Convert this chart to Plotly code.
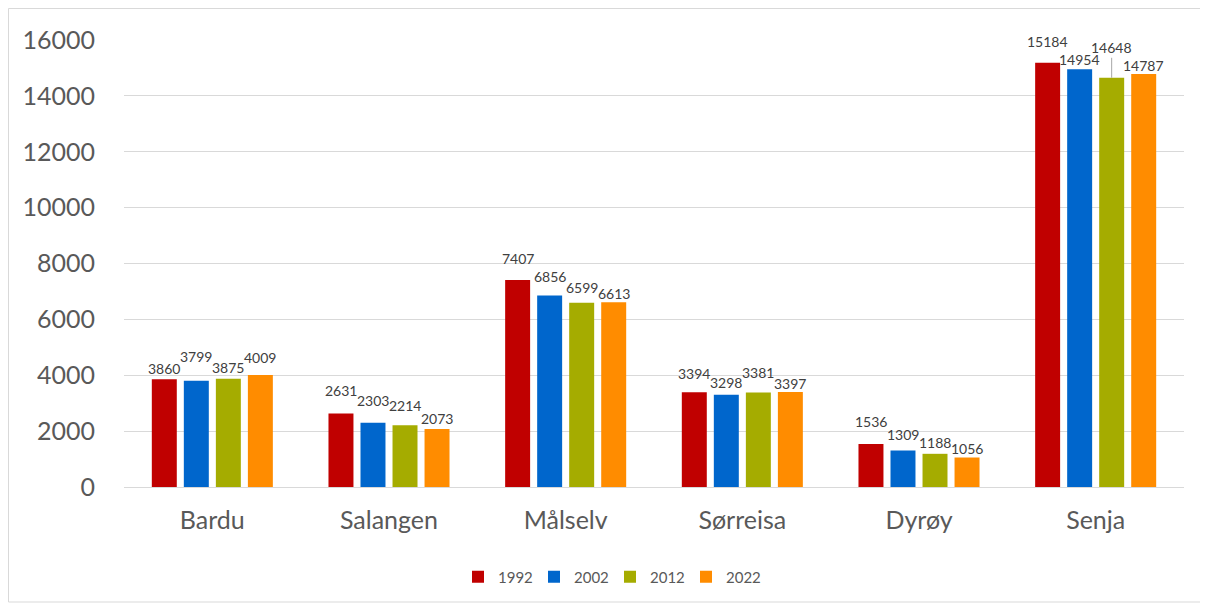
import plotly.graph_objects as go

categories = ["Bardu", "Salangen", "Målselv", "Sørreisa", "Dyrøy", "Senja"]
years = ["1992", "2002", "2012", "2022"]
v1992 = [3860, 2631, 7407, 3394, 1536, 15184]
v2002 = [3799, 2303, 6856, 3298, 1309, 14954]
v2012 = [3875, 2214, 6599, 3381, 1188, 14648]
v2022 = [4009, 2073, 6613, 3397, 1056, 14787]
y_ticks = [0, 2000, 4000, 6000, 8000, 10000, 12000, 14000, 16000]

series = [v1992, v2002, v2012, v2022]
colors = ["#C00000", "#0066CC", "#A5AC00", "#FF8C00"]

# label lift above bar top (px), per series per category (style only)
label_lift = [
    [11, 23, 22, 19, 23, 21],
    [24, 22, 19, 12, 16, 10],
    [11, 20, 15, 20, 11, 30],
    [18, 11, 9, 9, 9, 8],
]

FONT = "Lato, 'Open Sans', sans-serif"
fig = go.Figure()
for name, vals, col in zip(years, series, colors):
    fig.add_trace(go.Bar(x=categories, y=vals, name=name, marker_color=col,
                         marker_line_width=0))

slot = 32
annotations = []
for j, vals in enumerate(series):
    for i, v in enumerate(vals):
        lift = label_lift[j][i]
        a = dict(x=categories[i], y=v, text=str(v), xref="x", yref="y",
                 xshift=(j - 1.5) * slot,
                 font=dict(family=FONT, size=14, color="#404040"))
        if lift >= 28:
            a.update(showarrow=True, ax=0, ay=-lift, arrowhead=0, arrowwidth=1,
                     arrowcolor="#A6A6A6", standoff=0)
        else:
            a.update(showarrow=False, yshift=lift, yanchor="middle")
        annotations.append(a)

# page has an 8px body offset
OFF = 8
W, H = 1200, 600
L, R, T = 124 - OFF, 24, 40 - OFF
pw = W - L - R          # 1060
ph = 447
B = H - T - ph

def px_x(page_x):
    return (page_x - OFF - L) / pw

def px_y(page_y):
    return (T + ph - (page_y - OFF)) / ph

fig.add_shape(type="rect", xref="paper", yref="paper",
              x0=px_x(8.5), x1=px_x(1201),
              y0=px_y(602), y1=px_y(8.5),
              line=dict(color="#D9D9D9", width=1), fillcolor="rgba(0,0,0,0)",
              layer="below")

fig.update_layout(
    width=W, height=H,
    margin=dict(l=L, r=R, t=T, b=B),
    paper_bgcolor="white", plot_bgcolor="white",
    barmode="group", bargap=0.275, bargroupgap=0.22,
    font=dict(family=FONT, color="#595959"),
    annotations=annotations,
    showlegend=True,
    legend=dict(orientation="h", x=px_x(458), xanchor="left", y=px_y(577), yanchor="middle",
                font=dict(size=15, color="#595959"), traceorder="normal",
                itemwidth=30, entrywidth=31, bgcolor="rgba(0,0,0,0)"),
    xaxis=dict(type="category", showgrid=False, showline=False, ticks="",
               tickfont=dict(size=25, color="#595959"), ticklabelstandoff=16),
    yaxis=dict(range=[0, 16000], tickvals=y_ticks, showgrid=True, gridcolor="#D9D9D9",
               gridwidth=1, zeroline=True, zerolinecolor="#D9D9D9", zerolinewidth=1,
               showline=False, ticks="", tickformat="d",
               tickfont=dict(size=25, color="#595959"), ticklabelstandoff=28),
)

fig.write_html("out.html")
